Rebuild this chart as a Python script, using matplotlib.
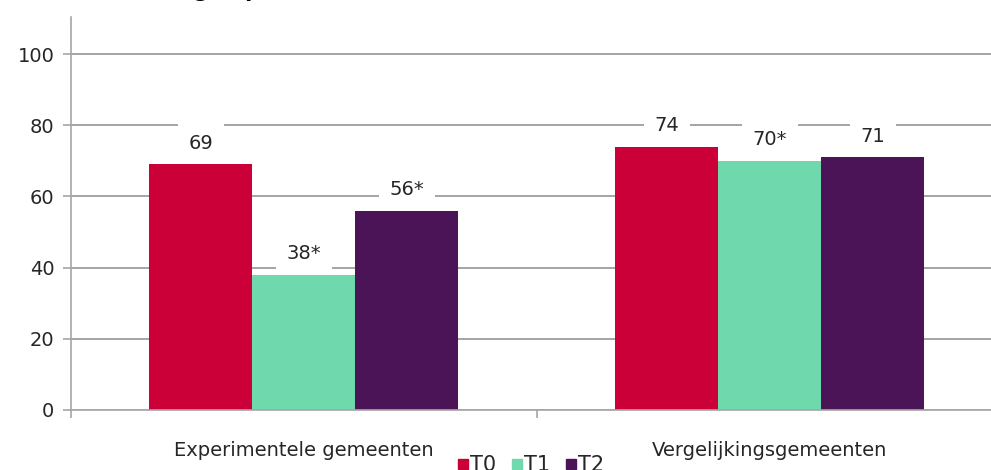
import numpy as np
import matplotlib.pyplot as plt
from matplotlib.lines import Line2D

categories = ["Experimentele gemeenten", "Vergelijkingsgemeenten"]
series = ["T0", "T1", "T2"]
values_t0 = [69, 74]
values_t1 = [38, 70]
values_t2 = [56, 71]
labels_t0 = ["69", "74"]
labels_t1 = ["38*", "70*"]
labels_t2 = ["56*", "71"]
y_ticks = [0, 20, 40, 60, 80, 100]

colors = ["#cc0039", "#6fd8ac", "#4a1456"]
text_color = "#262626"
fs = 14

fig = plt.figure(figsize=(9.91, 4.70), dpi=100)
ax = fig.add_axes([0.0716, 0.1277, 0.9405, 0.836])

x = np.arange(len(categories))
width = 0.221
all_vals = [values_t0, values_t1, values_t2]
all_labels = [labels_t0, labels_t1, labels_t2]

for i, (vals, labs) in enumerate(zip(all_vals, all_labels)):
    bars = ax.bar(x + (i - 1) * width, vals, width, color=colors[i], zorder=2)
    for b, lab in zip(bars, labs):
        ax.annotate(lab, (b.get_x() + b.get_width() / 2, b.get_height()),
                    xytext=(0, 21), textcoords="offset pixels",
                    ha="center", va="center", fontsize=fs, color=text_color,
                    bbox=dict(boxstyle="square,pad=0.55", fc="white", ec="none"),
                    zorder=3)

ax.set_xlim(-0.5, 1.5)
ax.set_ylim(0, 110.4)
ax.set_yticks(y_ticks)
ax.yaxis.grid(True, color="#8c8c8c", linewidth=1.1, zorder=0)
ax.set_axisbelow(True)

ax.set_xticks(x)
ax.set_xticklabels(categories)
ax.set_xticks([-0.5, 0.5, 1.5], minor=True)
ax.tick_params(axis="x", which="major", length=0, pad=22, labelsize=fs, labelcolor=text_color)
ax.tick_params(axis="x", which="minor", length=6, width=1.2, color="#a6a6a6")
ax.tick_params(axis="y", length=6, width=1.2, color="#a6a6a6", pad=6,
               labelsize=fs, labelcolor=text_color)

for side in ["top", "right"]:
    ax.spines[side].set_visible(False)
for side in ["left", "bottom"]:
    ax.spines[side].set_color("#a6a6a6")
    ax.spines[side].set_linewidth(1.2)

handles = [Line2D([], [], marker="s", linestyle="none", markersize=7.2,
                  markerfacecolor=c, markeredgecolor=c) for c in colors]
fig.legend(handles, series, loc="center", ncol=3, frameon=False,
           bbox_to_anchor=(531 / 991, 1 - 465 / 470), fontsize=15,
           handlelength=0.5, handletextpad=0.1, columnspacing=0.75,
           borderpad=0, labelcolor=text_color)

# title sits above the canvas edge, only its descenders reach in
fig.text(163 / 991, 1 + 3 / 470, "(eigen prioriteitenkader)", fontsize=15,
         fontweight="bold", ha="left", va="baseline", color="black")

fig.savefig("out.png", dpi=100)
